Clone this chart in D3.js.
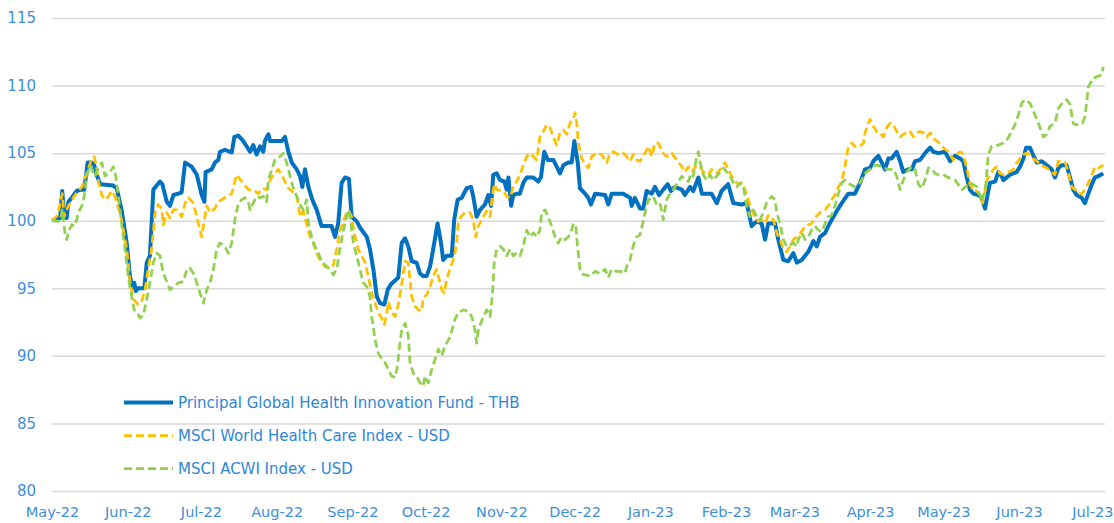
<!DOCTYPE html>
<html>
<head>
<meta charset="utf-8">
<script src="https://cdn.jsdelivr.net/npm/d3@7"></script>
<style>
  body { margin: 0; background: #fff; }
  svg { display: block; font-family: "DejaVu Sans", Verdana, sans-serif; }
</style>
</head>
<body>
<svg id="chart" width="1114" height="523"></svg>
<script>
// series are [days since 1 May 2022, index value]
const fundSeries = [[0,100],[3.3,100.2],[4.2,102.2],[5,100.3],[6,100.2],[6.7,101.4],[8.1,101.7],[10.1,102.2],[11.9,102.3],[13.2,102.3],[14.6,104.3],[16.3,104.3],[17.3,104.1],[18.3,103.4],[19.7,102.7],[25.1,102.6],[26.5,102.4],[28.5,100.8],[30.6,98.35],[31.9,95.9],[32.9,95.1],[33.7,95.4],[34.3,94.8],[35.3,95],[37.8,95],[38.8,96.9],[40.1,97.4],[41.5,102.3],[44.2,102.9],[45.2,102.7],[47,101.4],[48.3,101.1],[49.7,101.9],[51.7,102],[53.1,102.1],[54.5,104.3],[57.2,104],[59.3,103.4],[61.3,101.9],[62.4,101.4],[62.9,103.6],[65.4,103.8],[66.7,104.3],[68.1,104.5],[68.8,105.1],[70.8,105.25],[72.9,105.1],[73.6,105.05],[74.7,106.2],[76.3,106.3],[78.3,105.9],[81.1,105.1],[82.4,105.6],[83.8,104.9],[85.2,105.5],[86.5,105.1],[87.2,105.9],[88.6,106.4],[89.3,105.9],[94.1,105.9],[95.4,106.2],[96.8,105.1],[98.2,104.3],[100.2,103.8],[101.6,103.3],[102.5,102.5],[103.6,103.8],[105,102.5],[106.6,101.55],[108.4,100.8],[110.4,99.6],[114.5,99.6],[115.9,98.8],[117.2,99.8],[118.6,102.8],[120,103.2],[121.6,103.1],[122.7,100.3],[124.8,99.95],[126.1,99.5],[128.9,98.8],[130.2,97.9],[131.6,96.4],[133,94.4],[134.3,93.9],[136.1,93.8],[137.5,94.9],[138.8,95.3],[141.8,95.8],[143.2,98.35],[144.6,98.7],[145.9,98.1],[147.3,97],[149.3,96.9],[150.7,96.1],[152,95.9],[153.4,95.9],[154.8,96.6],[156.1,97.9],[157.9,99.8],[159.3,98.35],[160.2,97.1],[161.6,97.4],[163.7,97.4],[164.7,100.07],[166.1,101.55],[167.8,101.7],[169.8,102.4],[171.6,102.5],[172.5,101.8],[173.9,100.3],[175.3,100.8],[177.3,101.2],[178.7,101.9],[179.8,101.1],[180.7,103.4],[182.1,103.5],[183.5,103],[185.2,102.9],[186.2,102.3],[186.9,103.2],[188,101.1],[188.9,101.9],[190.3,102],[191.6,102],[193,102.8],[194.4,103.2],[197.1,103.2],[199.1,102.9],[200.2,103.2],[201.6,105.1],[203,104.5],[205.3,104.5],[206.7,104],[208,103.5],[209.4,104.1],[211.4,104.3],[212.8,104.3],[213.9,105.9],[215.3,104.3],[216.2,102.4],[218.3,102],[219.6,101.7],[220.7,101.2],[222.4,102],[226.5,101.9],[227.8,101.2],[229.2,102],[233.9,102],[236.7,101.7],[237.4,101.1],[238.7,101.7],[240.8,100.9],[242.1,100.9],[243.5,102.2],[245.6,102],[246.9,102.5],[248.6,101.9],[250.3,102.3],[252.1,102.7],[253.5,102.2],[255.1,102.5],[257.9,102.3],[259.2,101.9],[261.3,102.5],[262.6,102.2],[264.7,103.2],[266.1,102],[270.1,102],[272.2,101.3],[274.2,102.2],[276.9,102.7],[279,101.3],[282.4,101.2],[284.5,101.3],[286.5,99.6],[288.6,99.95],[290.6,99.8],[292,98.6],[293.3,99.8],[296.1,99.8],[297.4,98.6],[299.5,97.1],[301.5,97],[303.6,97.6],[305,96.9],[307,97.1],[309.7,97.7],[311.8,98.5],[313.2,98.1],[314.5,98.8],[316.6,99.1],[317.9,99.6],[319.3,100.07],[321.3,100.7],[323.4,101.3],[326.1,102],[328.8,102],[330.9,102.8],[332.9,103.8],[335,103.9],[336.3,104.4],[338.4,104.8],[339.8,104.3],[341.1,103.8],[342.5,104.6],[343.8,104.6],[345.9,105.1],[347.3,104.4],[348.6,103.6],[350.7,103.8],[352.1,103.8],[353.4,104.4],[355.5,104.5],[357.5,105],[359.6,105.4],[360.9,105.1],[363,105],[365.7,105.1],[367.8,104.4],[369.8,104.8],[371.8,104.6],[373.2,104.4],[374.6,103.2],[375.9,102.3],[377.3,102],[379.3,101.9],[380.7,101.7],[382.1,100.9],[383.4,102.2],[384.1,102.8],[386.2,102.9],[387.5,103.6],[388.9,103.3],[389.6,103],[392.3,103.4],[395,103.6],[396.4,104],[397.8,104.6],[398.9,105.4],[400.5,105.4],[401.9,104.8],[403.3,104.3],[405.3,104.4],[407.4,104.1],[409.4,103.8],[410.7,103.2],[412.1,103.9],[413.5,104.1],[415.5,104.1],[416.9,103.2],[418.2,102.3],[419.6,101.9],[421.6,101.7],[423,101.3],[424.4,102],[425.8,102.7],[427.1,103.2],[428.5,103.3],[430.5,103.5]];

const healthSeries = [[0,100],[2.3,100.4],[4.2,102],[5,100.3],[6.7,101.1],[9.4,101.9],[12.2,102.5],[14.2,103.5],[16.3,104.6],[17.3,104.75],[18.3,103.9],[19,102.9],[20.4,101.9],[21.7,101.55],[23.1,101.8],[24.4,102.2],[25.8,101.8],[28.5,100.07],[30.6,97.9],[31.9,95.6],[33.3,94.2],[35.3,93.8],[36.7,94],[38.1,94.9],[39.4,96.4],[40.8,97.9],[42.2,100.6],[43.5,101.2],[44.9,100.9],[45.6,99.7],[47,100.6],[48.3,100.2],[49.7,100.8],[51.1,100.8],[53.1,100.3],[54.5,101.3],[55.8,101.7],[57.9,101.3],[59.9,99.8],[61.3,98.8],[62.4,100.07],[63.4,101.1],[64.7,100.6],[66.7,100.9],[68.1,101.4],[70.8,101.7],[73.6,102],[75.6,103.4],[77.7,102.9],[80.4,102.3],[83.1,102.2],[84.5,102],[85.9,102.4],[87.9,102.3],[89.3,103],[90.6,103.4],[92.7,103.8],[94.1,103.4],[95.4,102.9],[96.8,102.4],[100.2,101.9],[101.6,100.3],[102.9,100.7],[104.3,99.7],[105.7,98.8],[107,98.35],[108.4,97.6],[109.7,97.1],[111.8,96.6],[113.8,96.5],[115.2,96.7],[116.6,97.9],[117.9,99.3],[120,100.3],[121.3,100.8],[122.7,100.3],[124.1,98.8],[125.4,97.9],[128.2,96.9],[129.5,95.9],[130.9,94.65],[132.3,93.9],[133.6,93.2],[135,92.8],[136.1,92.3],[137.1,93.2],[137.7,94],[139.1,93.2],[140.5,92.9],[141.8,93.8],[143.2,95.3],[144.6,97],[145.9,96.9],[146.6,95.6],[147.3,94.4],[148.6,93.7],[150,93.4],[151.4,93.3],[152,94.3],[153.4,94.5],[154.8,95.1],[156.1,95.9],[157.5,96.4],[158.2,95.9],[159.6,94.9],[160.6,94.65],[161.6,95.6],[163,96.5],[164.3,97.1],[165,97.6],[165.7,98.35],[166.4,99.95],[167.5,100.3],[169.1,100.6],[171.2,100.6],[172.5,100.07],[173.5,98.8],[174.6,99.6],[176.6,100.3],[178,100.7],[179.4,100.3],[180.3,101.8],[181.1,102.7],[182.1,102.3],[184.8,102.2],[186.2,101.8],[187.6,101.7],[188.9,102.5],[190.3,102.9],[191.6,103.4],[193,104.1],[194.4,104.75],[195.7,105],[197.1,104.75],[198.5,104.5],[199.8,106.2],[201.2,106.6],[202.6,107.1],[203.9,106.9],[205.3,106.2],[206.7,105.6],[208,106.5],[209.4,106.7],[210.8,106.4],[212.1,107.2],[213.5,107.5],[214.2,108],[214.9,107.2],[215.5,105.75],[216.9,104.6],[218.3,104.2],[219.6,103.9],[221,104.75],[223.1,105],[225.1,104.9],[227.2,104.3],[228.5,105],[229.9,105.1],[231.9,104.9],[234,105],[235.3,104.75],[236.7,104.4],[238.1,104.9],[239.4,104.5],[240.8,104.4],[242.1,104.75],[243.5,105.25],[244.2,105.5],[245.6,104.75],[246.9,105.75],[248.3,105.75],[250.3,105],[251.7,104.75],[253.8,105],[255.8,104.5],[257.9,104],[259.2,103.6],[260.6,104],[261.9,103.6],[264,104.1],[265.4,104],[266.7,103.6],[268.8,103.4],[270.1,103.8],[272.2,103.5],[274.2,103.9],[275.6,104.3],[276.9,103.8],[278.3,103.3],[279.7,102.9],[281,102.7],[282.4,102.8],[283.8,102.3],[285.1,101.55],[286.5,100.8],[287.8,100.3],[289.2,99.95],[290.6,100.07],[292,99.8],[293.3,100.4],[295.4,100.07],[296.8,99.1],[298.1,98.6],[299.5,97.9],[300.9,97.7],[302.2,98.1],[303.6,98.6],[305,98.8],[307,99.2],[308.4,99.6],[309.7,99.7],[311.1,99.8],[312.4,100.2],[314.5,100.6],[316.6,100.8],[317.9,101.1],[319.3,101.55],[320.6,101.9],[322,102.5],[323.4,102.9],[324.7,104],[326.1,105.5],[327.5,105.75],[328.8,105.5],[330.9,105.5],[332.3,105.75],[332.9,106.5],[334.3,107.2],[335,107.5],[336.3,107],[337.7,106.6],[339.1,106.5],[340.4,106.2],[341.8,106.9],[343.2,107.2],[344.5,107.1],[345.9,106.6],[347.3,106.2],[348.6,106.4],[350,106.5],[351.4,106.6],[352.7,106.2],[354.1,106.5],[355.4,106.6],[356.8,106.5],[358.2,106.2],[359.6,106.5],[360.9,106.1],[362.3,105.9],[363.6,105.7],[365,105.4],[367,105.1],[369.1,104.5],[370.5,104.9],[371.8,105.1],[373.2,104.9],[374.6,103.9],[375.9,102.7],[377.3,102.2],[378.7,102.2],[380,101.9],[381.1,101.3],[382.1,102.2],[382.8,103],[384.1,103.4],[385.5,103.8],[386.9,104],[388.2,103.5],[389.6,103.4],[391.7,103.6],[393.7,103.8],[395.1,104.3],[396.4,104.6],[397.8,104.9],[399.2,105],[400.5,104.9],[401.9,104.6],[403.3,104.4],[405.3,104.1],[407.4,103.9],[409.4,103.6],[410.7,103.4],[412.1,104.4],[413.5,104.4],[414.9,104.3],[416.2,103.6],[417.6,102.5],[419,102.3],[420.3,102],[421.7,102],[423,102.3],[424.4,102.8],[425.8,103.4],[427.1,104],[428.5,103.9],[430.5,104.1]];

const acwiSeries = [[0,100],[3.3,99.95],[4.2,100.8],[5.3,99.1],[6,98.6],[7,99.3],[8.1,99.7],[9.1,99.6],[10.1,100.07],[10.8,100.6],[12.2,101.1],[13.2,101.8],[14.2,103.3],[15.6,104.1],[17.6,103.3],[19,103.9],[20.4,104.3],[21.7,103.3],[23.8,103.6],[25.1,104],[26.1,103.3],[27.2,101.8],[28.5,99.8],[29.9,97.9],[31.2,95.9],[32.6,94.4],[33.7,93.4],[34.7,93.3],[36,92.8],[37.4,93],[38.8,94.2],[40.1,95.4],[41.5,96.9],[42.9,97.6],[44.2,97.4],[45.6,96.1],[47,95.5],[48.3,94.9],[49.7,95.1],[51.7,95.4],[53.8,95.5],[55.2,96.4],[56.5,96.5],[57.9,96.1],[59.3,95.4],[60.6,94.65],[62,93.9],[63.4,94.9],[64.7,95.4],[66.1,96.4],[67.4,97.9],[68.8,98.35],[70.8,98.1],[72.2,97.6],[73.6,98.35],[74.9,100.07],[76.3,101.3],[77.7,101.55],[79,101.7],[80.4,101.4],[81.1,100.8],[82.4,101.3],[83.8,101.8],[85.2,101.7],[86.5,101.8],[87.9,101.4],[88.6,103],[90,103.8],[91.3,104.5],[93.4,104.75],[94.7,105],[96.1,104.3],[97.5,103.3],[98.8,102.4],[100.2,101.8],[101.6,101.2],[102.9,100.8],[104.3,101.55],[105,99.8],[106.3,98.8],[107.7,98.1],[109.1,97.6],[110.4,97],[112.5,96.6],[113.8,96.4],[115.2,96],[116.6,96.4],[117.9,97.9],[119.3,99.3],[120.7,100.3],[121.6,100.8],[122.4,99.8],[123.4,98.35],[124.8,97.4],[126.1,96.4],[127.5,95.4],[128.9,95.1],[130.2,94.4],[130.9,92.9],[132.3,91.2],[133.6,90.2],[135,89.8],[136.4,89.5],[137.7,89],[139.1,88.5],[140.5,88.4],[141.2,89],[141.8,89.8],[142.5,90.95],[143.2,91.9],[144.6,92.4],[145.9,91.5],[146.6,89.5],[148,88.7],[149.3,88.5],[150.7,88],[152,87.75],[152.7,88.5],[154.1,88],[155.5,89],[156.8,89.7],[158.2,90.5],[159.6,90],[160.9,90.7],[163,91.4],[165,92.7],[166.4,93.2],[168.4,93.4],[170.5,93.3],[171.9,92.9],[173.2,91.9],[173.9,90.95],[174.6,91.9],[176.6,92.9],[178,93.4],[179.4,92.9],[180.3,94.4],[181.1,96.9],[182.1,97.9],[183.5,98.1],[184.8,97.9],[186.2,97.4],[187.6,97.9],[188.9,97.4],[190.3,97.6],[191.6,97.4],[193,98.1],[194.4,99.3],[195.7,98.8],[197.1,99.1],[198.5,98.8],[199.8,99.3],[200.5,100.6],[201.9,100.8],[203.2,100.3],[204.6,99.6],[206,98.8],[207.3,98.35],[208.7,98.8],[210.1,98.6],[211.4,98.8],[212.8,99.3],[213.5,99.8],[214.5,99.6],[215.3,97.9],[216.2,96.4],[217.6,96],[218.3,96],[220.3,95.9],[222.4,96.25],[224.4,96.1],[226.5,96.4],[227.8,95.8],[229.2,96.4],[231.2,96.25],[232.6,96.25],[234.6,96.1],[235.3,96.6],[236.7,97.1],[238.1,98.2],[239.4,98.8],[240.8,98.95],[242.1,99.95],[243.5,101.1],[244.2,101.55],[246.2,101.8],[247.6,101.2],[249,101.3],[250.3,100.07],[251.7,101.55],[253.1,102],[254.4,102.3],[256.5,102.9],[257.9,103.3],[259.2,103],[260.6,102.9],[261.7,103.5],[262.6,103.3],[264,104.75],[264.7,105.1],[265.4,104.3],[266.7,103.4],[268.1,103],[269.5,103.4],[270.8,103],[272.2,103.3],[273.6,103.6],[275,103.9],[276.3,103.6],[277.7,103.3],[279,102.8],[280.4,102.5],[281.8,102.8],[283.1,102.5],[284.5,101.1],[285.8,100.3],[287.2,100.8],[288.6,100.3],[289.9,100.07],[291.3,100.6],[292.6,101.3],[294.7,101.8],[296.1,101.55],[296.8,100.6],[298.1,99.8],[299.5,98.6],[300.9,98.1],[302.2,98.2],[303.6,98.35],[305,98.1],[305.6,98.6],[307,99.1],[308.4,98.6],[309.7,98.8],[311.1,99.3],[312.4,99.6],[313.8,99.3],[315.2,99.2],[316.6,99.8],[317.9,100.3],[319.3,100.4],[320.6,101.1],[322,102],[323.4,102.8],[324.7,103],[326.8,102.7],[328.8,102.5],[330.9,102.8],[332.9,103.5],[335,103.8],[336.3,104.1],[338.4,104.1],[340.4,103.9],[342.5,103.8],[344.5,103.8],[345.9,103.3],[347.3,102.3],[348.6,103],[350,103.6],[352.1,104],[353.4,103.8],[354.8,102.7],[356.2,102.4],[357.5,103],[358.9,103.9],[360.3,103.8],[361.6,103.5],[363,103.4],[365,103.4],[367,103.2],[369.8,103],[372.7,102.3],[376,102.8],[378.8,102.5],[380.9,101.4],[382.5,102.8],[383.4,104.9],[384.8,105.5],[387.5,105.6],[389.5,105.75],[391.5,106.1],[392.9,106.6],[394.3,107.1],[395.7,107.8],[397.1,108.7],[398.4,108.95],[400.5,108.7],[401.9,108.1],[403.3,107.5],[404.6,106.9],[406,106.2],[407.4,106.4],[408.7,107],[410.7,107.2],[412.1,108.3],[414.1,108.8],[415.5,108.95],[416.9,108.6],[418.2,107.2],[419.5,107.1],[421.9,107.2],[423,107.7],[424.4,109.9],[426.4,110.55],[428.5,110.7],[429.9,110.8],[430.5,111.4]];

const yTicks = [80, 85, 90, 95, 100, 105, 110, 115];
const seriesNames = [
  "Principal Global Health Innovation Fund - THB",
  "MSCI World Health Care Index - USD",
  "MSCI ACWI Index - USD"
];

const startDate = new Date(2022, 4, 1);
const toDate = d => new Date(startDate.getTime() + d * 864e5);

const svg = d3.select("#chart");
const plotLeft = 52, plotRight = 1105;

// scales
const x = d3.scaleTime()
  .domain([startDate, toDate(431)])
  .range([plotLeft, 1104.5]);
const y = d3.scaleLinear()
  .domain([80, 115])
  .range([491, 18]);

// horizontal gridlines
svg.append("g")
  .attr("transform", `translate(${plotLeft},0)`)
  .call(d3.axisLeft(y).tickValues(yTicks).tickSize(-(plotRight - plotLeft)).tickFormat(""))
  .call(g => g.select(".domain").remove())
  .call(g => g.selectAll("line").attr("stroke", "#d9d9d9").attr("stroke-width", 1.5));

// y labels
svg.append("g")
  .attr("transform", `translate(${plotLeft},0)`)
  .call(d3.axisLeft(y).tickValues(yTicks).tickSize(0).tickPadding(16))
  .call(g => g.select(".domain").remove())
  .call(g => g.selectAll("text")
    .attr("fill", "#3d8fdc")
    .style("font-size", "15px")
    .style("font-family", "DejaVu Sans, Verdana, sans-serif"));

// x labels, one a month
svg.append("g")
  .attr("transform", `translate(0,491)`)
  .call(d3.axisBottom(x)
    .ticks(d3.timeMonth.every(1))
    .tickFormat(d3.timeFormat("%b-%y"))
    .tickSize(0)
    .tickPadding(16))
  .call(g => g.select(".domain").remove())
  .call(g => g.selectAll("text")
    .attr("fill", "#3d8fdc")
    .style("font-size", "14.5px")
    .style("font-family", "DejaVu Sans, Verdana, sans-serif"));

const line = d3.line()
  .x(d => x(toDate(d[0])))
  .y(d => y(d[1]));

const styles = [
  { data: fundSeries, color: "#0070c0", width: 4, dash: null },
  { data: healthSeries, color: "#ffc000", width: 2.75, dash: "8,4" },
  { data: acwiSeries, color: "#92d050", width: 2.75, dash: "8,4" }
];

styles.forEach(s => {
  svg.append("path")
    .datum(s.data)
    .attr("fill", "none")
    .attr("stroke", s.color)
    .attr("stroke-width", s.width)
    .attr("stroke-linejoin", "round")
    .attr("stroke-dasharray", s.dash)
    .attr("d", line);
});

// legend
const legend = svg.append("g");
const legendRows = [402.5, 435.5, 468.5];
styles.forEach((s, i) => {
  legend.append("line")
    .attr("x1", 124).attr("x2", 173)
    .attr("y1", legendRows[i]).attr("y2", legendRows[i])
    .attr("stroke", s.color)
    .attr("stroke-width", s.width)
    .attr("stroke-dasharray", s.dash);
  legend.append("text")
    .attr("x", 178)
    .attr("y", legendRows[i])
    .attr("dy", "0.35em")
    .attr("fill", "#2e86d8")
    .style("font-size", "15px")
    .text(seriesNames[i]);
});
</script>
</body>
</html>
